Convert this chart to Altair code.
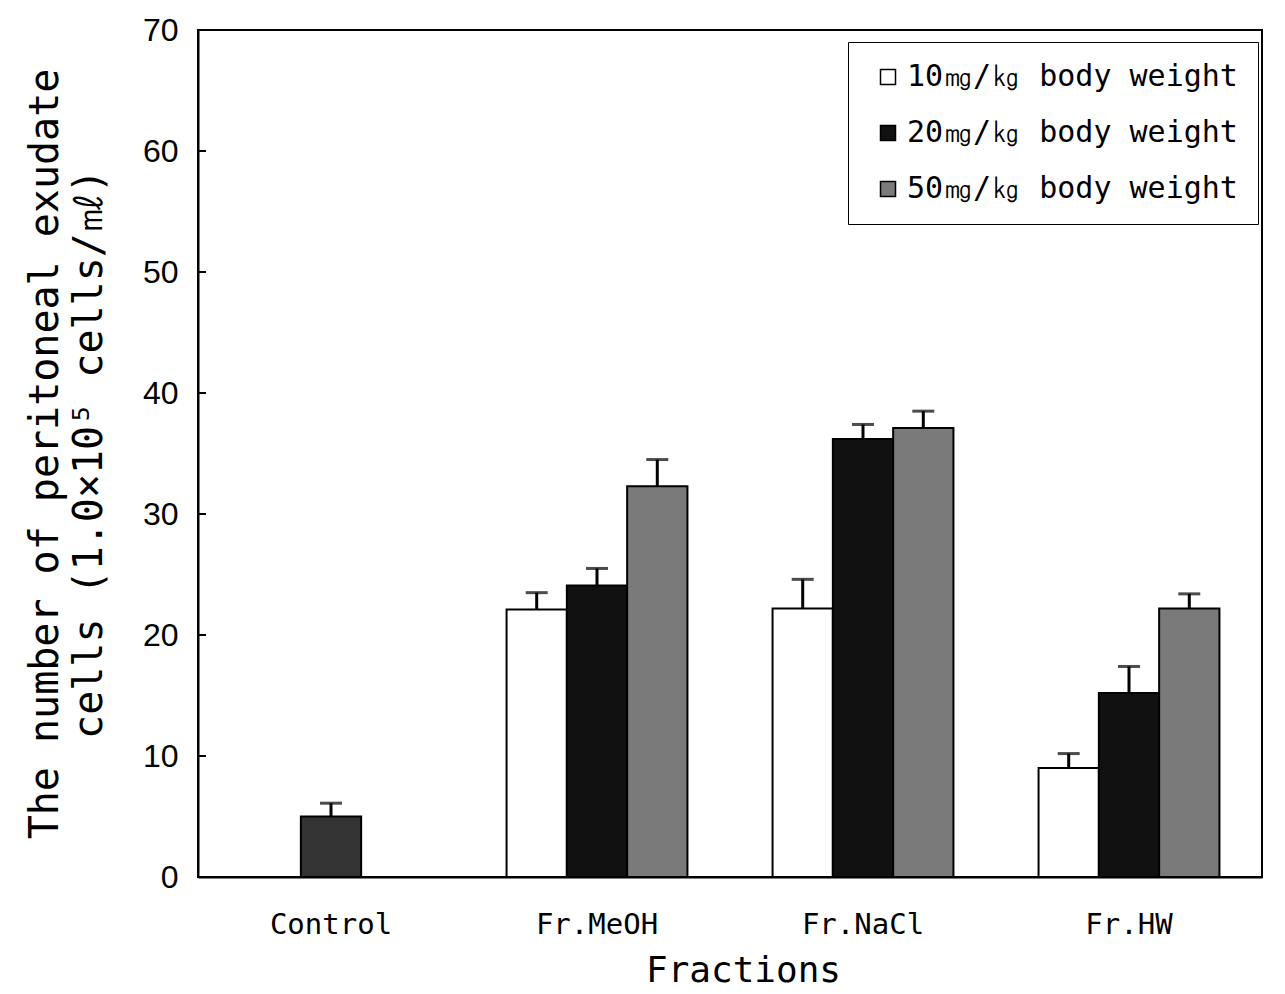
import altair as alt
import pandas as pd

categories = ["Control", "Fr.MeOH", "Fr.NaCl", "Fr.HW"]
series = ["10㎎/㎏ body weight", "20㎎/㎏ body weight", "50㎎/㎏ body weight"]

# values for the three fractions (MeOH, NaCl, HW)
mean_10 = [22.1, 22.2, 9.0]
upper_10 = [23.5, 24.6, 10.2]
mean_20 = [24.1, 36.2, 15.2]
upper_20 = [25.5, 37.4, 17.4]
mean_50 = [32.3, 37.1, 22.2]
upper_50 = [34.5, 38.5, 23.4]

control_mean = 5.0
control_upper = 6.1

y_ticks = [0, 10, 20, 30, 40, 50, 60, 70]

rows = [{"cat": "Control", "slot": series[1], "fill": "Control",
         "v": control_mean, "up": control_upper}]
for s, means, ups in [(series[0], mean_10, upper_10),
                      (series[1], mean_20, upper_20),
                      (series[2], mean_50, upper_50)]:
    for c, m, u in zip(categories[1:], means, ups):
        rows.append({"cat": c, "slot": s, "fill": s, "v": m, "up": u})
df = pd.DataFrame(rows)
ticks_df = pd.DataFrame({"t": y_ticks})

mono = "DejaVu Sans Mono"

x_enc = alt.X("cat:N", sort=categories,
              scale=alt.Scale(paddingInner=0.32, paddingOuter=0.16),
              axis=alt.Axis(title="Fractions", labelAngle=0, ticks=False, tickSize=0,
                            labelFont=mono, labelFontSize=29, labelColor="black",
                            labelPadding=33, titleFont=mono, titleFontSize=36,
                            titleFontWeight="normal", titleColor="black",
                            titlePadding=14, titleX=545,
                            domainColor="black", domainWidth=2))
xoff = alt.XOffset("slot:N", sort=series, scale=alt.Scale(domain=series, paddingInner=0, paddingOuter=0))
y_scale = alt.Scale(domain=[0, 70], nice=False)

bars = alt.Chart(df).mark_bar(stroke="black", strokeWidth=2).encode(
    x=x_enc,
    xOffset=xoff,
    y=alt.Y("v:Q", scale=y_scale,
            axis=alt.Axis(title=["The number of peritoneal exudate", "cells (1.0×10⁵ cells/㎖)"],
                          values=y_ticks, grid=False, ticks=False, tickSize=0,
                          labelFont="Liberation Sans", labelFontSize=32, labelColor="black",
                          labelPadding=20, titleFont=mono, titleFontSize=40,
                          titleFontWeight="normal", titleColor="black",
                          titleLineHeight=44, titlePadding=33,
                          domainColor="black", domainWidth=2)),
    color=alt.Color("fill:N",
                    scale=alt.Scale(domain=series + ["Control"],
                                    range=["white", "#111111", "#7a7a7a", "#333333"]),
                    legend=alt.Legend(title=None, values=series, orient="none",
                                      legendX=650, legendY=12, symbolType="square",
                                      symbolSize=225, symbolStrokeColor="black",
                                      symbolStrokeWidth=1.5, labelFont=mono,
                                      labelFontSize=30, labelColor="black",
                                      labelLimit=500, strokeColor="black",
                                      fillColor="white", padding=20, rowPadding=26,
                                      symbolOffset=5)),
)

err = alt.Chart(df).mark_rule(color="black", strokeWidth=3).encode(
    x=alt.X("cat:N", sort=categories), xOffset=xoff,
    y=alt.Y("v:Q", scale=y_scale), y2="up:Q")

caps = alt.Chart(df).mark_tick(color="black", thickness=3, size=22).encode(
    x=alt.X("cat:N", sort=categories), xOffset=xoff,
    y=alt.Y("up:Q", scale=y_scale))

yticks = alt.Chart(ticks_df).mark_rule(color="black", strokeWidth=2).encode(
    y=alt.Y("t:Q", scale=y_scale), x=alt.value(0), x2=alt.value(8))

chart = alt.layer(bars, err, caps, yticks).properties(
    width=1064, height=847,
    autosize=alt.AutoSizeParams(type="none"),
    padding={"left": 198, "top": 30, "right": 23, "bottom": 117},
    background="white",
).configure_view(stroke="black", strokeWidth=2)

chart.save("out.html", embed_options={"renderer": "svg", "actions": False})
